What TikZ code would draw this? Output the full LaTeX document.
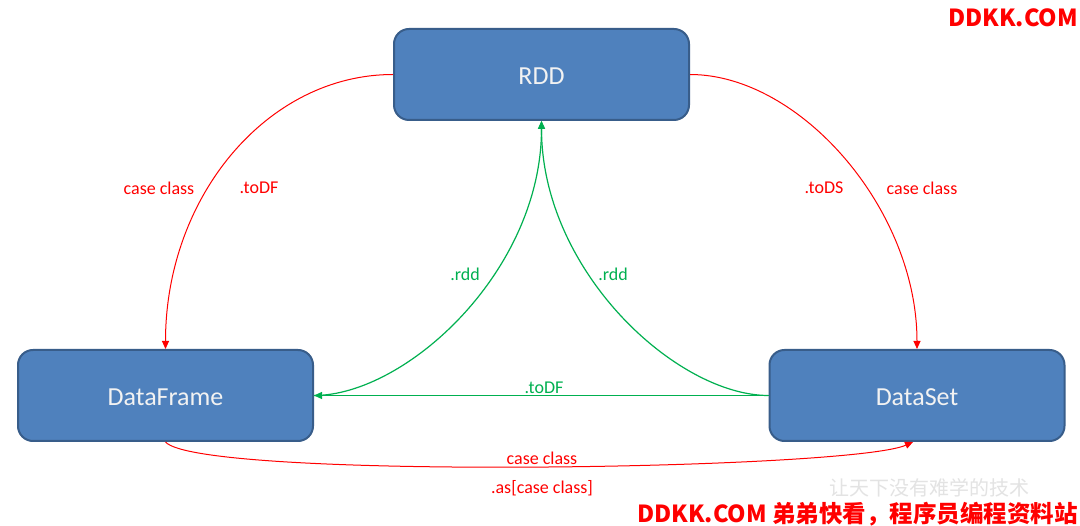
\documentclass[tikz,border=0pt]{standalone}
\usepackage{fontspec}
\setmainfont{Carlito}
\newfontfamily\cjkfont{Noto Sans CJK SC}
\usetikzlibrary{arrows.meta}
\definecolor{boxfill}{HTML}{4F81BD}
\definecolor{boxline}{HTML}{385D8A}
\definecolor{grn}{HTML}{00B050}
\definecolor{rd}{HTML}{FF0000}
\definecolor{boxtext}{HTML}{F2F2F2}
\begin{document}
\begin{tikzpicture}[x=1pt,y=-1pt,
  box/.style={draw=boxline, fill=boxfill, line width=2pt, rounded corners=15pt,
    minimum width=295pt, minimum height=91pt, text=boxtext,
    font=\fontsize{26}{30}\selectfont, inner sep=0pt, text height=20pt, text depth=0pt},
  redarrow/.style={draw=rd, line width=1pt, -{Triangle[length=8pt,width=7pt]}},
  grnarrow/.style={draw=grn, line width=1.2pt, -{Triangle[length=8pt,width=7pt]}},
  lbl/.style={font=\fontsize{18}{20}\selectfont, inner sep=0pt},
  redlbl/.style={lbl, text=rd},
  grnlbl/.style={lbl, text=grn},
  mark text/.style={font=\cjkfont\bfseries\fontsize{23.5}{26}\selectfont, text=rd, inner sep=0pt, anchor=east},
]
\useasboundingbox (0,0) rectangle (1080,526);
\fill[white] (0,0) rectangle (1080,526);

% boxes
\node[box] (rdd) at (541.5,74.5) {RDD};
\node[box] (df) at (165.5,395.5) {DataFrame};
\node[box] (ds) at (917,395.5) {DataSet};

% red connectors
\draw[redarrow] (rdd.west) .. controls +(-126,0) and +(0,-152) .. (df.north);
\draw[redarrow] (rdd.east) .. controls +(110,0) and +(0,-140) .. (ds.north);
\draw[redarrow] (df.south) .. controls +(34,38) and +(-63,28) .. ([xshift=-4pt]ds.south);

% green connectors
\draw[grnarrow] (ds.west) -- (df.east);
\draw[grnarrow] (ds.west) .. controls +(-92,0) and +(0,150) .. (rdd.south);
\draw[grnarrow] (df.east) .. controls +(92,0) and +(0,150) .. (rdd.south);

% labels
\node[redlbl] (l1) at (159,188) {case class};
\node[redlbl] (l2) at (259,188) {.toDF};
\node[redlbl] (l3) at (824,188) {.toDS};
\node[redlbl] (l4) at (922,188) {case class};
\node[redlbl] (l5) at (542,458) {case class};
\node[redlbl] (l6) at (542,488) {.as[case class]};
\node[grnlbl] (g1) at (465,274) {.rdd};
\node[grnlbl] (g2) at (613,274) {.rdd};
\node[grnlbl] (g3) at (544,388) {.toDF};

% watermarks
\node[text=gray!22, font=\cjkfont\fontsize{20}{22}\selectfont, inner sep=0pt] (wm) at (929,488) {让天下没有难学的技术};
\node[mark text] (wtop) at (1078,18) {DDKK.COM};
\node[mark text] (wbot) at (1078,514) {DDKK.COM 弟弟快看，程序员编程资料站};
\end{tikzpicture}
\end{document}
